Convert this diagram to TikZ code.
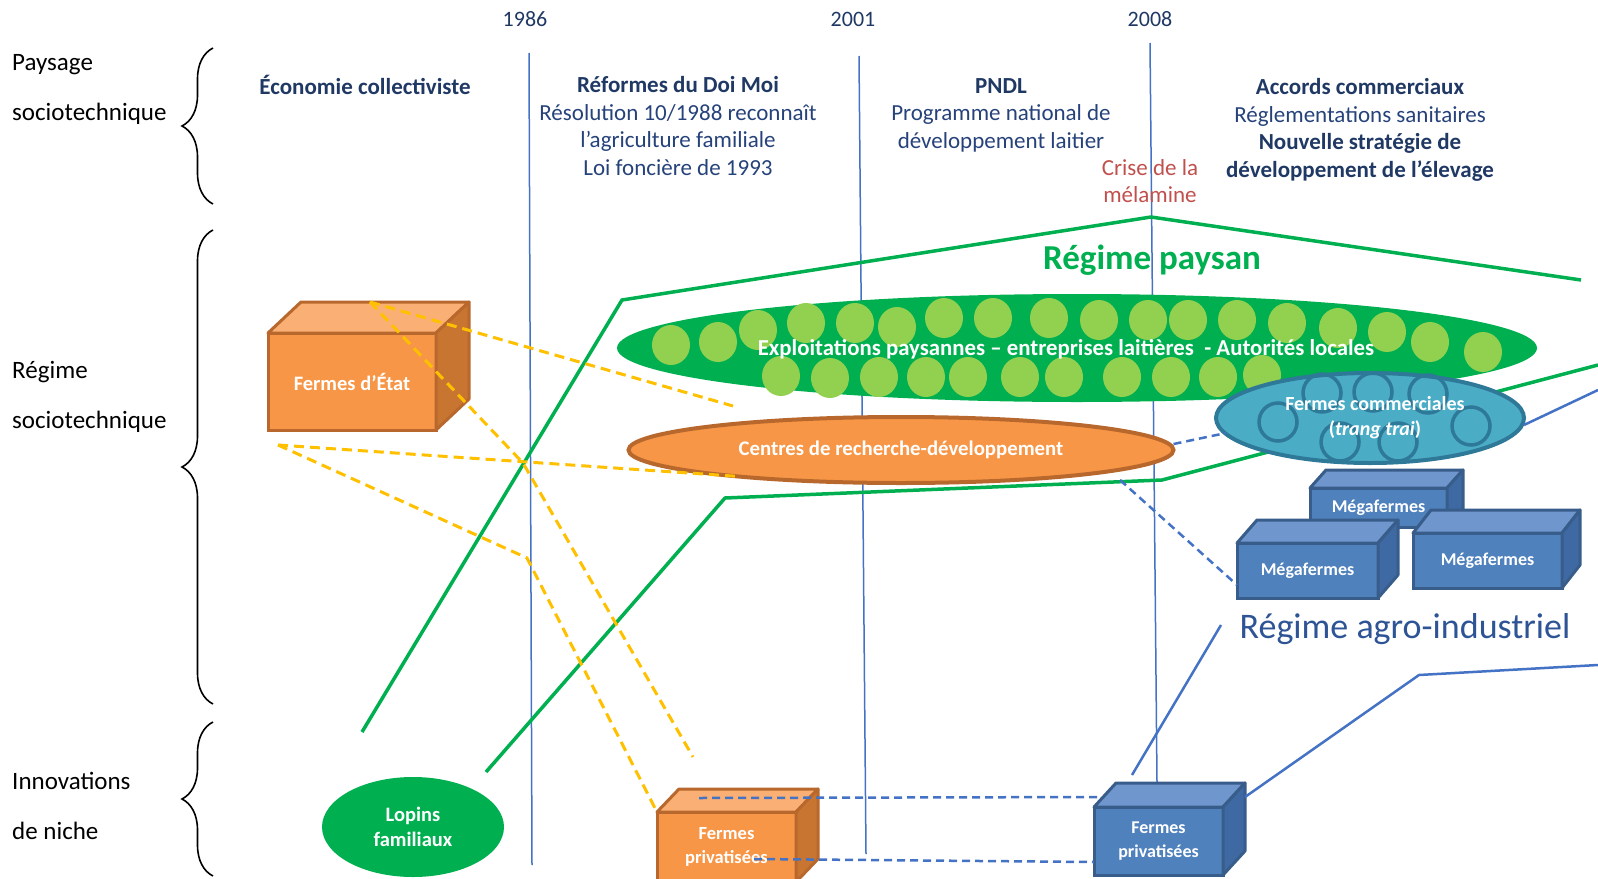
\documentclass[tikz,border=0pt]{standalone}
\usepackage{fontspec}
\setmainfont{Carlito}
\usetikzlibrary{shapes.geometric,decorations.pathreplacing}

\definecolor{navyText}{RGB}{31,56,100}
\definecolor{blueText}{RGB}{38,66,122}
\definecolor{crisisRed}{RGB}{192,80,77}
\definecolor{paysGreen}{RGB}{0,176,80}
\definecolor{dotGreen}{RGB}{146,208,80}
\definecolor{orangeFront}{RGB}{247,150,70}
\definecolor{orangeTop}{RGB}{250,176,116}
\definecolor{orangeSide}{RGB}{201,117,50}
\definecolor{orangeEdge}{RGB}{184,104,44}
\definecolor{blueFront}{RGB}{79,129,189}
\definecolor{blueTop}{RGB}{111,150,205}
\definecolor{blueSide}{RGB}{62,105,162}
\definecolor{blueEdge}{RGB}{56,93,138}
\definecolor{tealFill}{RGB}{75,172,198}
\definecolor{tealEdge}{RGB}{46,120,152}
\definecolor{lineBlue}{RGB}{68,114,196}
\definecolor{dashYellow}{RGB}{255,192,0}
\definecolor{agroBlue}{RGB}{46,84,150}

\begin{document}
\begin{tikzpicture}
[x=1pt,y=-1pt,%
  yearDecorate/.style={draw=lineBlue,line width=1.5pt},%
  yearText/.style={text=navyText,font=\fontsize{22}{26}\selectfont},%
  braceDecorate/.style={decorate,decoration={brace,amplitude=31pt},line width=1.6pt},%
  levelDecorate/.style={anchor=west,align=left,inner sep=0pt,font=\fontsize{25}{50}\selectfont},%
  periodDecorate/.style={align=center,inner sep=0pt,text=blueText,font=\fontsize{23}{27.5}\selectfont},%
  boxDecorate/.style={shape=rectangle,line width=3pt,inner sep=0pt,outer sep=0pt,text=white,align=center},%
  faceDecorate/.style={line width=3pt,line join=round},%
  ellipseDecorate/.style={shape=ellipse,inner sep=0pt,outer sep=0pt,text=white,align=center,font=\bfseries\fontsize{20}{25}\selectfont},%
  paysDecorate/.style={draw=paysGreen,line width=3.5pt},%
  agroDecorate/.style={draw=lineBlue,line width=2.5pt},%
  yellowDecorate/.style={draw=dashYellow,line width=3pt,dash pattern=on 10pt off 6pt},%
  blueDashDecorate/.style={draw=lineBlue,line width=2.5pt,dash pattern=on 8pt off 5pt}]

\useasboundingbox (0,0) rectangle (1598,878);

%% years and time lines
\foreach \yr/\xy/\xt/\yt/\xb/\yb in {1986/525/529/53/532/865, 2001/853/859/56/866/854, 2008/1150/1150/43/1157/782}
{
  \node (y\yr) at (\xy,19) [yearText] {\yr};
  \coordinate (top\yr) at (\xt,\yt);
  \coordinate (bot\yr) at (\xb,\yb);
  \draw[yearDecorate] (top\yr) -- (bot\yr);
}

%% levels and braces
\node (paysage) at (12,89) [levelDecorate] {Paysage\\sociotechnique};
\node (regime) at (12,397) [levelDecorate] {Régime\\sociotechnique};
\node (niche) at (12,806) [levelDecorate] {Innovations\\de niche};
\foreach \ytop/\ybot in {48/204, 230/704, 722/876}
{
  \draw[braceDecorate] (213,\ybot) -- (213,\ytop);
}

%% landscape
\node (economie) at (365,85) [periodDecorate,text=navyText] {\textbf{Économie collectiviste}};
\node (doimoi) at (678,126) [periodDecorate] {\textcolor{navyText}{\textbf{Réformes du Doi Moi}}\\Résolution 10/1988 reconnaît\\l’agriculture familiale\\Loi foncière de 1993};
\node (pndl) at (1001,115) [periodDecorate] {\textcolor{navyText}{\textbf{PNDL}}\\Programme national de\\développement laitier};
\node (accords) at (1360,130) [periodDecorate,text=navyText] {\textbf{Accords commerciaux}\\\textcolor{blueText}{Réglementations sanitaires}\\\textbf{Nouvelle stratégie de}\\\textbf{développement de l’élevage}};
\node (crise) at (1150,181) [periodDecorate,text=crisisRed] {Crise de la\\mélamine};

%% regime boundaries
\draw[paysDecorate] (362,732) -- (622,300) -- (1151,217) -- (1581,280);
\draw[paysDecorate] (486,772) -- (725,498) -- (1162,480) -- (1598,365);
\node (paysan) at (1152,260) [text=paysGreen,font=\bfseries\fontsize{35}{40}\selectfont] {Régime paysan};
\node (agro) at (1405,629) [text=agroBlue,font=\fontsize{36}{40}\selectfont] {Régime agro-industriel};

%% peasant regime
\node (exploit) at (1077,348) [ellipseDecorate,fill=paysGreen,minimum width=920pt,minimum height=108pt] {};
\foreach \cx/\cy in {671/345, 718/342, 758/330, 806/323, 855/323, 897/327, 944/318, 993/318, 1049/318,
  1099/320, 1148/320, 1188/320, 1237/320, 1287/323, 1338/328, 1387/332, 1430/342, 1483/352,
  781/376, 830/378, 879/377, 926/377, 968/377, 1020/377, 1064/377, 1122/377, 1171/377, 1218/377, 1262/375}
{
  \fill[dotGreen] (\cx,\cy) ellipse [x radius=19, y radius=20];
}
\node (exploitTxt) at (1066,349) [ellipseDecorate,font=\bfseries\fontsize{22.8}{26}\selectfont] {Exploitations paysannes – entreprises laitières\ \ - Autorités locales};
\node (centres) at (901,450) [ellipseDecorate,fill=orangeFront,draw=orangeEdge,line width=4pt,minimum width=545pt,minimum height=66pt,font=\bfseries\fontsize{20.8}{25}\selectfont] {Centres de recherche-développement};
\node (commerc) at (1370,418) [ellipseDecorate,fill=tealFill,draw=tealEdge,line width=4pt,minimum width=308pt,minimum height=90pt] {};
\foreach \cx/\cy in {1278/422, 1322/393, 1373/392, 1428/394, 1471/426, 1340/442, 1398/442}
{
  \draw[tealEdge,line width=3.5pt] (\cx,\cy) circle [radius=19];
}
\node (commercTxt) at (1375,418) [ellipseDecorate] {Fermes commerciales\\(\textit{trang trai})};
\draw[blueDashDecorate] ([yshift=6pt]centres.east) -- ([shift={(10pt,-15pt)}]commerc.west);
\node (lopins) at (413,827) [ellipseDecorate,fill=paysGreen,minimum width=182pt,minimum height=100pt,font=\bfseries\fontsize{20.5}{25}\selectfont] {Lopins\\familiaux};

%% farms
\foreach \bname/\x/\y/\w/\h/\dx/\dy/\tone/\fs/\btext in {
  etat/352/381.5/168/97/33/31/orange/20.5/Fermes d’État,
  privO/726.5/847/139/70/22/23/orange/18.5/Fermes\\privatisées,
  privB/1158.5/841/129/68/22/24/blue/18/Fermes\\privatisées,
  megaTop/1378.5/507.5/137/39/16/18/blue/18/Mégafermes,
  megaLeft/1307.5/570.5/141/55/20/23/blue/18/Mégafermes,
  megaRight/1487.5/560.5/149/55/18/23/blue/18/Mégafermes}
{
  \node (\bname) at (\x,\y) [boxDecorate,fill=\tone Front,draw=\tone Edge,minimum width=\w pt,minimum height=\h pt,font=\bfseries\fontsize{\fs}{24}\selectfont] {\btext};
  \filldraw[faceDecorate,fill=\tone Top,draw=\tone Edge] (\bname.north west) -- ([shift={(\dx,-\dy)}]\bname.north west)
    -- ([shift={(\dx,-\dy)}]\bname.north east) -- (\bname.north east) -- cycle;
  \filldraw[faceDecorate,fill=\tone Side,draw=\tone Edge] (\bname.north east) -- ([shift={(\dx,-\dy)}]\bname.north east)
    -- ([shift={(\dx,-\dy)}]\bname.south east) -- (\bname.south east) -- cycle;
}

%% agro-industrial links
\coordinate (agroFoot) at (1132,775);
\coordinate (agroHead) at (1221,625);
\coordinate (agroBend) at (1419,675);
\coordinate (agroEnd) at (1598,665);
\coordinate (commercEnd) at (1598,390);
\coordinate (greenFoot) at (1120,480);
\draw[agroDecorate] (agroFoot) -- (agroHead);
\draw[agroDecorate] ([shift={(22pt,10pt)}]privB.north east) -- (agroBend) -- (agroEnd);
\draw[agroDecorate] ([yshift=-7pt]commerc.east) -- (commercEnd);
\draw[blueDashDecorate] (greenFoot) -- ([yshift=-14.5pt]megaLeft.west);
\draw[blueDashDecorate] ([shift={(42pt,14pt)}]privO.north west) -- ([shift={(7pt,10pt)}]privB.north west);
\draw[blueDashDecorate] ([shift={(27.5pt,-12pt)}]privO.center) -- ([yshift=-21pt]privB.west);

%% state farm links
\coordinate (etatTop) at (370,302);
\coordinate (etatFoot) at (278,445);
\coordinate (yEndA) at (733,406);
\coordinate (yBendB) at (523,463);
\coordinate (yEndB) at (693,757);
\coordinate (yBendD) at (527,558);
\draw[yellowDecorate] (etatTop) -- (yEndA);
\draw[yellowDecorate] (etatTop) -- (yBendB) -- (yEndB);
\draw[yellowDecorate] (etatFoot) -- (centres.189);
\draw[yellowDecorate] (etatFoot) -- (yBendD) -- (privO.north west);
\end{tikzpicture}
\end{document}
